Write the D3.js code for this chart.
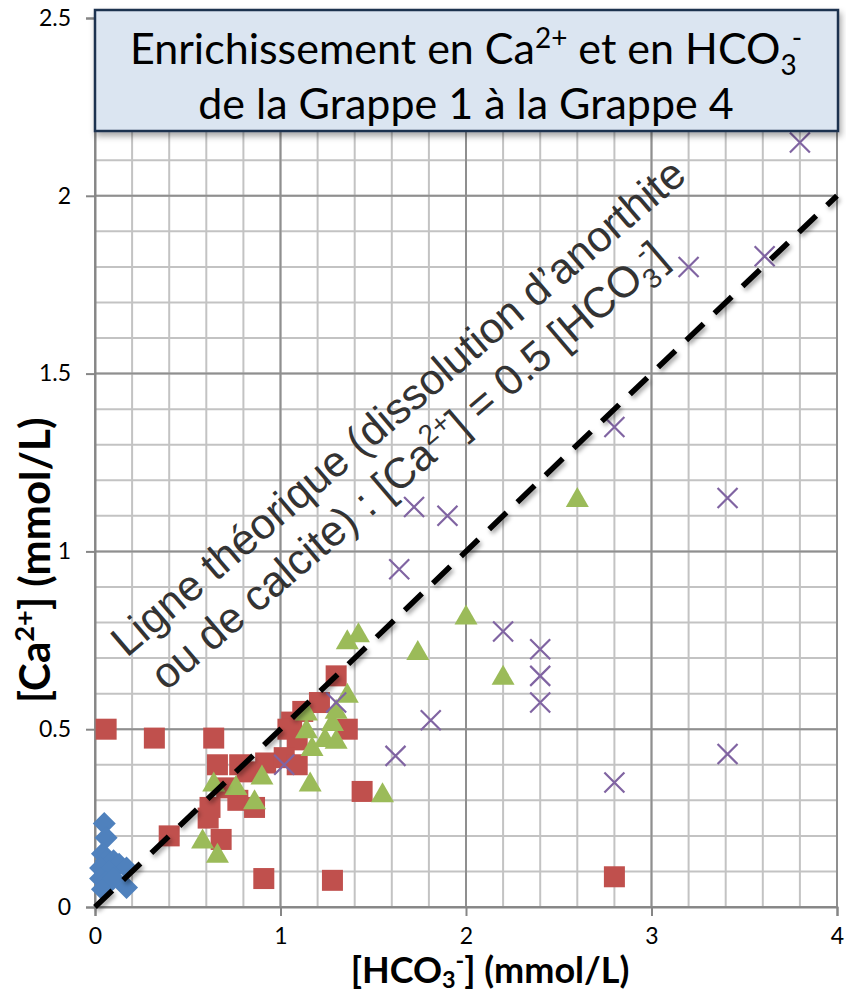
<!DOCTYPE html>
<html>
<head>
<meta charset="utf-8">
<script src="https://cdn.jsdelivr.net/npm/d3@7"></script>
<style>
  html, body { margin: 0; padding: 0; background: #fff; }
  svg { display: block; }
</style>
</head>
<body>
<svg id="chart"></svg>
<script>
/* Ca2+ vs HCO3- scatter, grappes 1 to 4 */

// Grappe 1 (blue diamonds)
const g1X = [0.05, 0.06, 0.04, 0.06, 0.10, 0.13, 0.17, 0.03, 0.08, 0.03, 0.06, 0.04, 0.17, 0.10];
const g1Y = [0.235, 0.195, 0.15, 0.13, 0.13, 0.12, 0.11, 0.11, 0.10, 0.08, 0.07, 0.05, 0.055, 0.08];

// Grappe 2 (red squares)
const g2X = [0.06, 0.32, 0.64, 0.40, 0.61, 0.68, 0.66, 0.78, 0.82, 0.77, 0.86, 0.71, 0.91, 1.28, 2.80,
             1.44, 1.30, 1.36, 1.21, 1.12, 1.06, 1.04, 1.09, 0.92, 1.02, 1.09, 0.62];
const g2Y = [0.50, 0.475, 0.475, 0.20, 0.25, 0.19, 0.40, 0.40, 0.38, 0.30, 0.28, 0.335, 0.08, 0.075, 0.085,
             0.325, 0.65, 0.50, 0.575, 0.55, 0.52, 0.50, 0.47, 0.405, 0.42, 0.40, 0.28];

// Grappe 3 (green triangles)
const g3X = [0.58, 0.66, 0.64, 0.76, 0.86, 0.90, 1.14, 1.14, 1.17, 1.16, 1.24, 1.30, 1.28, 1.30, 1.36,
             1.36, 1.42, 1.55, 1.74, 2.00, 2.20, 2.60];
const g3Y = [0.19, 0.15, 0.35, 0.34, 0.30, 0.37, 0.55, 0.50, 0.45, 0.35, 0.475, 0.47, 0.52, 0.555, 0.60,
             0.75, 0.77, 0.32, 0.72, 0.82, 0.65, 1.15];

// Grappe 4 (purple crosses)
const g4X = [3.80, 3.20, 3.61, 2.80, 3.41, 1.72, 1.90, 1.64, 2.20, 2.40, 2.40, 2.40, 1.81, 1.62, 2.80,
             3.41, 1.30, 1.02];
const g4Y = [2.15, 1.80, 1.83, 1.35, 1.15, 1.125, 1.10, 0.95, 0.775, 0.725, 0.65, 0.575, 0.525, 0.425, 0.35,
             0.43, 0.575, 0.40];

// theoretical line [Ca2+] = 0.5 [HCO3-]
const refLineX = [0, 4];
const refLineY = [0, 2];

const xTicks = [0, 1, 2, 3, 4];
const yTicks = [0, 0.5, 1, 1.5, 2, 2.5];

const width = 846, height = 995;
const margin = {top: 18, right: 9, bottom: 88, left: 95};

const svg = d3.select("#chart")
    .attr("width", width)
    .attr("height", height);

const defs = svg.append("defs");
defs.append("filter").attr("id", "lineShadow")
    .attr("x", "-10%").attr("y", "-10%").attr("width", "120%").attr("height", "120%")
  .append("feDropShadow")
    .attr("dx", 2).attr("dy", 3).attr("stdDeviation", 2)
    .attr("flood-color", "#000").attr("flood-opacity", 0.35);
defs.append("filter").attr("id", "boxShadow")
    .attr("x", "-5%").attr("y", "-10%").attr("width", "110%").attr("height", "130%")
  .append("feDropShadow")
    .attr("dx", 2).attr("dy", 4).attr("stdDeviation", 3)
    .attr("flood-color", "#000").attr("flood-opacity", 0.35);

/*** scales */
const x = d3.scaleLinear().domain([0, 4]).range([margin.left, width - margin.right]);
const y = d3.scaleLinear().domain([0, 2.5]).range([height - margin.bottom, margin.top]);

/*** grid */
const minorX = d3.range(0, 4.001, 0.2);
const minorY = d3.range(0, 2.501, 0.1);

const grid = svg.append("g");
grid.selectAll(".vminor").data(minorX).join("line")
    .attr("x1", d => x(d)).attr("x2", d => x(d))
    .attr("y1", y(0)).attr("y2", y(2.5))
    .attr("stroke", "#c3c3c3").attr("stroke-width", 2);
grid.selectAll(".hminor").data(minorY).join("line")
    .attr("y1", d => y(d)).attr("y2", d => y(d))
    .attr("x1", x(0)).attr("x2", x(4))
    .attr("stroke", "#c3c3c3").attr("stroke-width", 2);
grid.selectAll(".vmajor").data(xTicks).join("line")
    .attr("x1", d => x(d)).attr("x2", d => x(d))
    .attr("y1", y(0)).attr("y2", y(2.5))
    .attr("stroke", "#8f8f8f").attr("stroke-width", 2);
grid.selectAll(".hmajor").data(yTicks).join("line")
    .attr("y1", d => y(d)).attr("y2", d => y(d))
    .attr("x1", x(0)).attr("x2", x(4))
    .attr("stroke", "#8f8f8f").attr("stroke-width", 2);

/*** axes */
const xAxis = g => g
    .attr("transform", `translate(0,${y(0)})`)
    .call(d3.axisBottom(x).tickValues(xTicks).tickFormat(d3.format("d")).tickSize(9).tickPadding(12))
    .call(g => g.select(".domain").attr("stroke", "#868686").attr("stroke-width", 2));

const yAxis = g => g
    .attr("transform", `translate(${x(0)},0)`)
    .call(d3.axisLeft(y).tickValues(yTicks).tickFormat(d => d).tickSize(9).tickPadding(15))
    .call(g => g.select(".domain").attr("stroke", "#868686").attr("stroke-width", 2));

svg.append("g").call(xAxis);
svg.append("g").call(yAxis);
svg.selectAll(".tick line").attr("stroke", "#868686").attr("stroke-width", 2);
svg.selectAll(".tick text")
    .attr("font-family", "Lato, 'Open Sans', sans-serif")
    .attr("font-size", "23px")
    .attr("fill", "#000");

/*** points */
const zip = (xs, ys) => xs.map((v, i) => [v, ys[i]]);

svg.append("g").selectAll("path").data(zip(g1X, g1Y)).join("path")
    .attr("transform", d => `translate(${x(d[0])},${y(d[1])})`)
    .attr("d", "M0,-11.5L11.5,0L0,11.5L-11.5,0Z")
    .attr("fill", "#4f81bd");

svg.append("g").selectAll("rect").data(zip(g2X, g2Y)).join("rect")
    .attr("x", d => x(d[0]) - 10.5).attr("y", d => y(d[1]) - 10.5)
    .attr("width", 21).attr("height", 21)
    .attr("fill", "#c0504d");

svg.append("g").selectAll("path").data(zip(g3X, g3Y)).join("path")
    .attr("transform", d => `translate(${x(d[0])},${y(d[1])})`)
    .attr("d", "M0,-11L11.5,9L-11.5,9Z")
    .attr("fill", "#9bbb59");

svg.append("g").selectAll("path").data(zip(g4X, g4Y)).join("path")
    .attr("transform", d => `translate(${x(d[0])},${y(d[1])})`)
    .attr("d", "M-10,-10L10,10M-10,10L10,-10")
    .attr("stroke", "#8064a2").attr("stroke-width", 2.2).attr("fill", "none");

/*** theoretical line */
svg.append("path")
    .datum(zip(refLineX, refLineY))
    .attr("d", d3.line().x(d => x(d[0])).y(d => y(d[1])))
    .attr("stroke", "#000").attr("stroke-width", 5.5)
    .attr("stroke-dasharray", "24,15")
    .attr("fill", "none")
    .attr("filter", "url(#lineShadow)");

/*** rich text helper: parts = [text, mode, dx] with mode "sup" / "sub" */
function richText(textSel, parts, size, subShift = 0.25) {
  let cur = 0;
  parts.forEach(([t, mode, dx]) => {
    const target = mode === "sup" ? -0.38 * size : mode === "sub" ? subShift * size : 0;
    const ts = textSel.append("tspan")
        .attr("dy", target - cur)
        .attr("font-size", mode ? size * 0.65 : size)
        .text(t);
    if (dx) ts.attr("dx", dx);
    cur = target;
  });
}

/*** annotation along the line */
const note = svg.append("g")
    .attr("transform", `translate(${x(1.633)},${y(1.406)}) rotate(-40.5)`)
    .attr("font-family", "'Liberation Sans', Arial, sans-serif")
    .attr("fill", "#333")
    .attr("text-anchor", "middle");
richText(note.append("text").attr("y", 15),
    [["Ligne théorique (dissolution d\u2019anorthite"]], 43);
richText(note.append("text").attr("x", -30).attr("y", 66),
    [["ou de calcite) : [Ca"], ["2+", "sup"], ["] = 0.5 [HCO"], ["3", "sub"], ["-", "sup", -5], ["]"]], 43);

/*** title box */
svg.append("rect")
    .attr("x", x(0)).attr("y", 10)
    .attr("width", x(4) - x(0) + 1).attr("height", 121)
    .attr("fill", "#dbe5f1")
    .attr("stroke", "#1f3350").attr("stroke-width", 2.5)
    .attr("filter", "url(#boxShadow)");

const titleFont = "Lato, 'Open Sans', sans-serif";
const titleX = (x(0) + x(4)) / 2;
richText(svg.append("text").attr("x", titleX).attr("y", 64)
    .attr("text-anchor", "middle").attr("font-family", titleFont).attr("fill", "#000"),
    [["Enrichissement en Ca"], ["2+", "sup"], [" et en HCO"], ["3", "sub"], ["-", "sup", -5]], 43);
richText(svg.append("text").attr("x", titleX).attr("y", 119)
    .attr("text-anchor", "middle").attr("font-family", titleFont).attr("fill", "#000"),
    [["de la Grappe 1 à la Grappe 4"]], 43);

/*** axis titles */
richText(svg.append("text").attr("x", 490).attr("y", 983)
    .attr("text-anchor", "middle").attr("font-family", titleFont)
    .attr("font-weight", "bold").attr("fill", "#000"),
    [["[HCO"], ["3", "sub"], ["-", "sup"], ["] (mmol/L)"]], 36, 0.15);

richText(svg.append("text")
    .attr("transform", `translate(50,${y(0.975)}) rotate(-90)`)
    .attr("text-anchor", "middle").attr("font-family", titleFont)
    .attr("font-weight", "bold").attr("fill", "#000"),
    [["[Ca"], ["2+", "sup"], ["] (mmol/L)"]], 42);
</script>
</body>
</html>
